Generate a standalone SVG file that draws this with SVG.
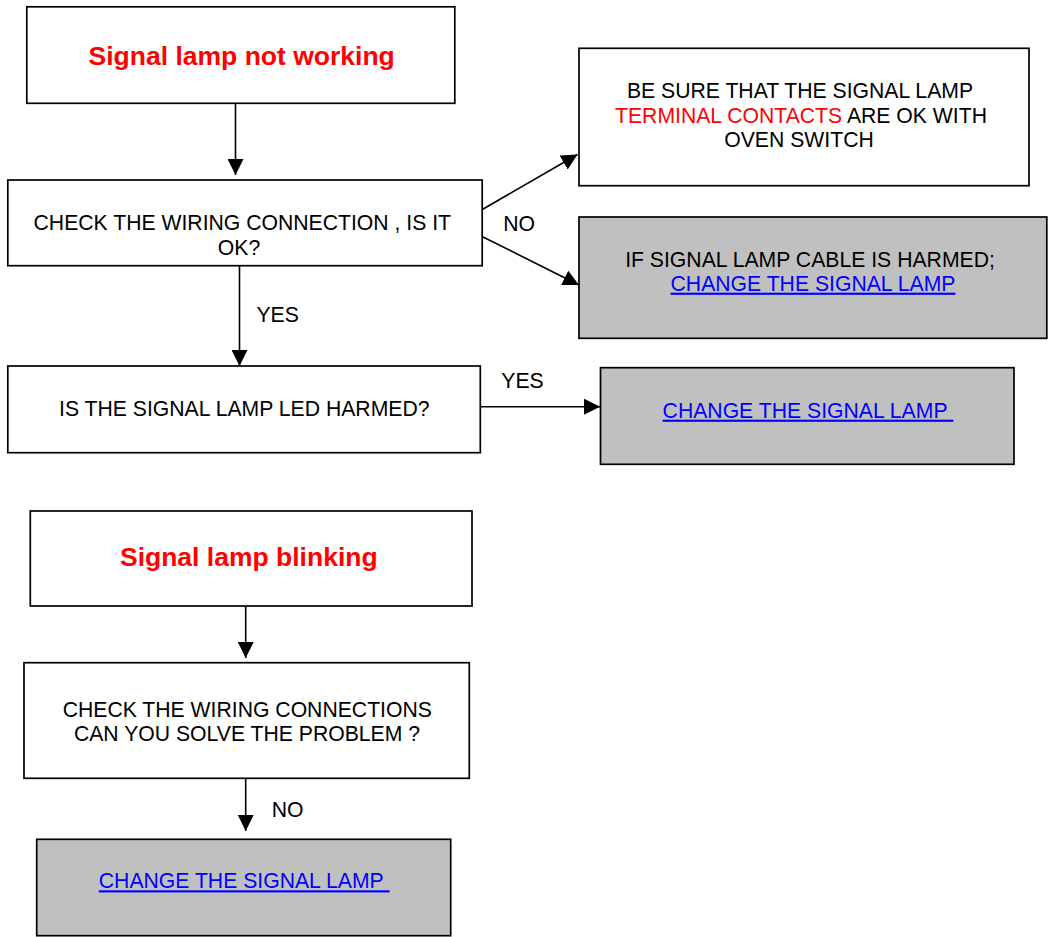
<svg xmlns="http://www.w3.org/2000/svg" width="1048" height="937" viewBox="0 0 1048 937">
<style>
.box{fill:#fff;stroke:#000;stroke-width:1.7}
.grey{fill:#c0c0c0;stroke:#000;stroke-width:1.7}
.t{font-family:"Liberation Sans",Arial,sans-serif;font-size:21.2px;fill:#000}
.title{font-family:"Liberation Sans",Arial,sans-serif;font-size:26.5px;font-weight:bold;fill:#ff0000}
.red{fill:#ff0000}
.link{fill:#0000ff;text-decoration:underline}
.c{text-anchor:middle}
.conn line{stroke:#000;stroke-width:1.6;marker-end:url(#ah)}
</style>
<defs>
<marker id="ah" markerUnits="userSpaceOnUse" markerWidth="16" markerHeight="16" refX="16" refY="8" orient="auto">
<path d="M0,0 L16,8 L0,16 z" fill="#000"/>
</marker>
</defs>
<rect width="1048" height="937" fill="#fff"/>

<g id="connectors" class="conn">
<line x1="235.5" y1="104" x2="235.5" y2="175"/>
<line x1="239.5" y1="266" x2="239.5" y2="366"/>
<line x1="481" y1="210.3" x2="577.5" y2="154.5"/>
<line x1="482.5" y1="236.7" x2="579" y2="285"/>
<line x1="480" y1="406.7" x2="600" y2="406.7"/>
<line x1="245.7" y1="606.5" x2="245.7" y2="658"/>
<line x1="245.7" y1="778.5" x2="245.7" y2="831"/>
</g>

<g id="labels">
<text class="t" x="503.3" y="230.7">NO</text>
<text class="t" x="256.4" y="321.7">YES</text>
<text class="t" x="501.3" y="388.3">YES</text>
<text class="t" x="271.7" y="816.7">NO</text>
</g>

<g id="n1">
<rect class="box" x="26.8" y="6.8" width="428" height="96.5"/>
<text class="title c" x="241.7" y="64.5">Signal lamp not working</text>
</g>

<g id="n2">
<rect class="box" x="7.8" y="180" width="474.4" height="85.7"/>
<text class="t c" x="242.3" y="230">CHECK THE WIRING CONNECTION , IS IT</text>
<text class="t c" x="239" y="255">OK?</text>
</g>

<g id="n3">
<rect class="box" x="579" y="48.3" width="450" height="137.4"/>
<text class="t c" x="800" y="98.3">BE SURE THAT THE SIGNAL LAMP</text>
<text class="t c" x="801" y="122.5"><tspan class="red">TERMINAL CONTACTS</tspan> ARE OK WITH</text>
<text class="t c" x="799" y="146.5">OVEN SWITCH</text>
</g>

<g id="n4">
<rect class="grey" x="579" y="217" width="467.8" height="121.3"/>
<text class="t c" x="810" y="266.7">IF SIGNAL LAMP CABLE IS HARMED;</text>
<text class="t c link" x="813" y="290.7">CHANGE THE SIGNAL LAMP</text>
</g>

<g id="n5">
<rect class="box" x="7.8" y="366" width="472.5" height="86.7"/>
<text class="t c" x="244.3" y="416">IS THE SIGNAL LAMP LED HARMED?</text>
</g>

<g id="n6">
<rect class="grey" x="600.5" y="367.7" width="413.5" height="96.6"/>
<text class="t c link" x="808" y="417.7">CHANGE THE SIGNAL LAMP&#160;</text>
</g>

<g id="n7">
<rect class="box" x="30.3" y="511" width="441.7" height="95"/>
<text class="title c" x="248.8" y="566">Signal lamp blinking</text>
</g>

<g id="n8">
<rect class="box" x="24" y="662.7" width="445.3" height="115.6"/>
<text class="t c" x="247.3" y="716.7">CHECK THE WIRING CONNECTIONS</text>
<text class="t c" x="247" y="740.7">CAN YOU SOLVE THE PROBLEM ?</text>
</g>

<g id="n9">
<rect class="grey" x="36.7" y="839.3" width="414" height="96.4"/>
<text class="t c link" x="244.2" y="888.3">CHANGE THE SIGNAL LAMP&#160;</text>
</g>
</svg>
